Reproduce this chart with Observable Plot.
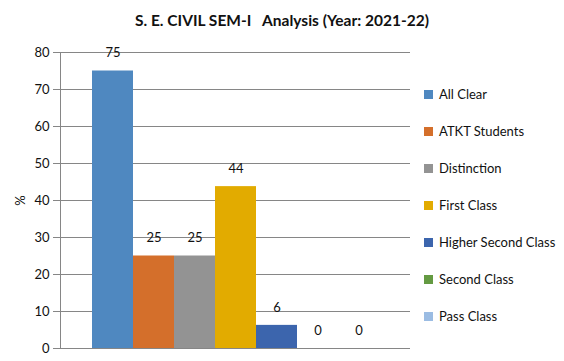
<!DOCTYPE html>
<html>
<head>
<meta charset="utf-8">
<script src="https://cdn.jsdelivr.net/npm/d3@7"></script>
<script src="https://cdn.jsdelivr.net/npm/@observablehq/plot@0.6"></script>
<style>
  html, body { margin: 0; padding: 0; background: #fff; }
  #wrap { position: relative; width: 564px; height: 361px; font-family: Lato, "Open Sans", sans-serif; }
  #title { position: absolute; left: 0; top: 11px; width: 564px; text-align: center; font-weight: bold; font-size: 15.5px; white-space: pre; color: #111; }
  #chart { position: absolute; left: 0; top: 40px; }
  #legend { position: absolute; left: 424px; top: 0; }
  .item { position: absolute; left: 0; white-space: nowrap; font-size: 13px; color: #111; display: flex; align-items: center; height: 16px; }
  .sw { width: 9px; height: 9px; margin-right: 6px; }
</style>
</head>
<body>
<div id="wrap">
  <div id="title"></div>
  <div id="chart"></div>
  <div id="legend"></div>
</div>
<script>
const title = "S. E. CIVIL SEM-I   Analysis (Year: 2021-22)";
const categories = ["All Clear", "ATKT Students", "Distinction", "First Class", "Higher Second Class", "Second Class", "Pass Class"];
const values = [75, 25, 25, 43.75, 6.25, 0, 0];
const colors = ["#4f88c0", "#d46f2b", "#939393", "#e2ab00", "#3c65ad", "#649a42", "#9bbce3"];
const yTicks = [0, 10, 20, 30, 40, 50, 60, 70, 80];
const yLabel = "%";

document.getElementById("title").textContent = title;

const data = categories.map((c, i) => ({cat: c, value: values[i], label: String(Math.round(values[i]))}));

const plot = Plot.plot({
  width: 564,
  height: 321,
  marginLeft: 60,
  marginRight: 154,
  marginTop: 12,
  marginBottom: 13,
  style: {fontFamily: "Lato, 'Open Sans', sans-serif", fontSize: "13px", color: "#111", background: "#fff"},
  x: {domain: categories, paddingInner: 0, paddingOuter: 0.76, axis: null},
  y: {domain: [0, 80], ticks: yTicks},
  color: {domain: categories, range: colors},
  marks: [
    Plot.gridY(yTicks, {stroke: "#868686", strokeOpacity: 1, strokeWidth: 1}),
    Plot.axisY({ticks: yTicks, tickSize: 7, tickPadding: 4, stroke: "#868686", label: yLabel, labelAnchor: "center", labelArrow: "none", labelOffset: 45, fontSize: 13}),
    Plot.frame({anchor: "left", stroke: "#868686"}),
    Plot.barY(data, {x: "cat", y: "value", fill: "cat"}),
    Plot.text(data, {x: "cat", y: "value", text: "label", dy: -18, fill: "#111", fontSize: 13}),
  ]
});
document.getElementById("chart").appendChild(plot);

const legend = document.getElementById("legend");
categories.forEach((c, i) => {
  const div = document.createElement("div");
  div.className = "item";
  div.style.top = (94 - 8 + i * 37) + "px";
  const sw = document.createElement("span");
  sw.className = "sw";
  sw.style.background = colors[i];
  const t = document.createElement("span");
  t.textContent = c;
  div.appendChild(sw);
  div.appendChild(t);
  legend.appendChild(div);
});
</script>
</body>
</html>
